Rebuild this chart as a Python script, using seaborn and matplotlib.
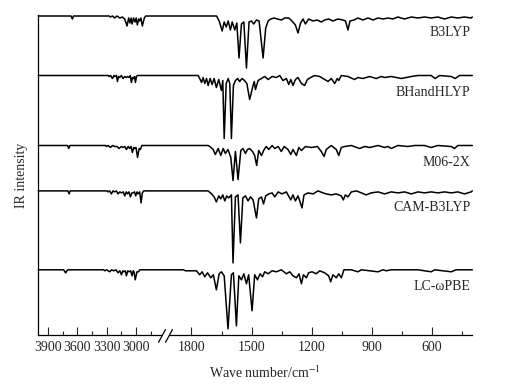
import numpy as np
import pandas as pd
import seaborn as sns
import matplotlib
matplotlib.use("Agg")
import matplotlib.pyplot as plt

# Spectra: [wave number (cm-1), band depth below baseline]
b3lyp = np.array([
    [4000, 0], [3665, 0], [3651, 3], [3640, 0], [3275, 0], [3262, 1], [3240, 0], [3218, 2],
    [3195, 0], [3166, 2], [3140, 1], [3115, 3], [3092, 10], [3075, 2], [3062, 7], [3050, 2],
    [3040, 8], [3025, 2], [3010, 6], [2998, 2], [2986, 9], [2972, 3], [2962, 5], [2950, 2],
    [2935, 10], [2915, 2], [2900, 0],
    [1675, 0], [1662, 5], [1647, 15], [1637, 6], [1627, 11], [1617, 5], [1606, 14], [1597, 6],
    [1584, 14], [1574, 7], [1563, 42], [1551, 8], [1539, 6], [1526, 52], [1513, 6], [1501, 5],
    [1490, 8], [1476, 4], [1463, 5], [1443, 42], [1430, 12], [1418, 5], [1405, 3], [1388, 2],
    [1372, 3], [1352, 4], [1335, 2], [1315, 2], [1299, 5], [1282, 9], [1269, 17], [1256, 7],
    [1244, 3], [1232, 8], [1216, 3], [1194, 5], [1174, 4], [1153, 6], [1136, 4], [1116, 3],
    [1095, 5], [1070, 3], [1045, 4], [1032, 5], [1020, 14], [1010, 5], [990, 4], [970, 2],
    [945, 4], [920, 2], [895, 4], [870, 2], [845, 3], [820, 2], [796, 3], [771, 1], [738, 3],
    [704, 1], [671, 2], [638, 1], [605, 2], [572, 1], [538, 3], [505, 1], [472, 2], [439, 1],
    [406, 2], [400, 1],
])

bhandhlyp = np.array([
    [4000, 0], [3285, 0], [3276, 1], [3260, 0], [3242, 3], [3225, 0], [3214, 1], [3200, 0],
    [3190, 6], [3178, 1], [3166, 2], [3150, 0], [3132, 3], [3115, 1], [3098, 2], [3085, 1],
    [3071, 2], [3058, 0], [3047, 7], [3035, 2], [3023, 3], [3015, 1], [3006, 7], [2995, 1],
    [2985, 0],
    [1767, 0], [1759, 3], [1750, 7], [1742, 2], [1734, 8], [1725, 3], [1717, 10], [1707, 3],
    [1697, 9], [1687, 3], [1676, 12], [1664, 4], [1651, 15], [1644, 5], [1637, 63], [1627, 8],
    [1617, 3], [1609, 8], [1601, 63], [1591, 10], [1581, 5], [1570, 3], [1560, 6], [1548, 3],
    [1536, 5], [1524, 8], [1510, 24], [1493, 10], [1487, 6], [1481, 14], [1468, 5], [1451, 3],
    [1435, 1], [1418, 4], [1398, 1], [1377, 2], [1360, 0], [1344, 5], [1327, 3], [1315, 9],
    [1305, 4], [1294, 10], [1282, 4], [1269, 2], [1252, 8], [1236, 10], [1222, 4], [1206, 2],
    [1186, 0], [1161, 1], [1136, 4], [1119, 6], [1103, 3], [1086, 8], [1073, 3], [1066, 5],
    [1053, 0], [1020, 1], [987, 4], [970, 2], [945, 3], [912, 1], [879, 3], [854, 1], [837, 2],
    [804, 1], [754, 3], [704, 1], [671, 0], [605, 0], [585, 3], [563, 0], [505, 1], [485, 3],
    [464, 0], [400, 0],
])

m062x = np.array([
    [4000, 0], [3700, 0], [3688, 3], [3676, 0], [3310, 0], [3303, 1], [3285, 0], [3262, 2],
    [3240, 0], [3218, 1], [3195, 1], [3173, 3], [3150, 1], [3132, 2], [3115, 1], [3098, 4],
    [3080, 1], [3064, 3], [3050, 1], [3037, 7], [3022, 2], [3013, 3], [3000, 2], [2984, 12],
    [2968, 3], [2955, 4], [2940, 0],
    [1717, 0], [1709, 1], [1692, 4], [1681, 9], [1667, 3], [1654, 10], [1642, 3], [1631, 8],
    [1618, 4], [1604, 12], [1593, 35], [1581, 6], [1568, 34], [1554, 5], [1543, 3], [1531, 8],
    [1521, 4], [1510, 3], [1496, 6], [1485, 10], [1475, 20], [1465, 5], [1451, 10], [1438, 4],
    [1427, 1], [1415, 4], [1398, 0], [1385, 3], [1368, 1], [1352, 6], [1338, 1], [1319, 4],
    [1305, 9], [1294, 4], [1277, 10], [1265, 2], [1252, 5], [1232, 1], [1202, 2], [1172, 1],
    [1153, 6], [1139, 11], [1128, 4], [1103, 0], [1078, 4], [1066, 10], [1053, 2], [1036, 1],
    [1003, 0], [962, 3], [937, 1], [912, 2], [870, 0], [837, 2], [821, 1], [804, 3], [771, 0],
    [721, 1], [688, 0], [638, 0], [605, 2], [572, 0], [505, 1], [489, 3], [472, 0], [400, 0],
])

camb3lyp = np.array([
    [4000, 0], [3697, 0], [3685, 3], [3673, 0], [3295, 0], [3286, 1], [3270, 0], [3252, 3],
    [3235, 0], [3218, 1], [3200, 0], [3184, 3], [3165, 1], [3149, 2], [3130, 1], [3115, 5],
    [3100, 1], [3088, 3], [3072, 1], [3057, 6], [3042, 2], [3030, 2], [3015, 1], [3003, 5],
    [2990, 1], [2980, 3], [2962, 1], [2948, 12], [2935, 2], [2920, 0],
    [1717, 0], [1700, 3], [1687, 6], [1676, 11], [1664, 5], [1654, 8], [1644, 4], [1634, 10],
    [1624, 5], [1614, 7], [1601, 4], [1593, 72], [1581, 6], [1568, 4], [1556, 52], [1544, 7],
    [1531, 5], [1518, 10], [1506, 6], [1493, 9], [1476, 27], [1465, 8], [1451, 6], [1441, 13],
    [1430, 5], [1415, 3], [1398, 2], [1385, 6], [1368, 1], [1349, 3], [1327, 1], [1305, 9],
    [1294, 4], [1282, 10], [1269, 5], [1257, 12], [1249, 17], [1239, 4], [1219, 2], [1194, 3],
    [1169, 0], [1144, 2], [1128, 3], [1103, 4], [1078, 3], [1053, 5], [1043, 9], [1033, 4],
    [1020, 6], [1003, 1], [978, 0], [953, 2], [929, 4], [904, 2], [870, 1], [837, 3], [804, 1],
    [771, 2], [738, 1], [704, 3], [671, 1], [638, 2], [605, 1], [572, 2], [538, 1], [505, 2],
    [472, 1], [439, 3], [406, 1], [400, 0],
])

lcwpbe = np.array([
    [4000, 0], [3740, 0], [3728, 2], [3719, 3], [3708, 1], [3695, 0], [3330, 0], [3320, 1],
    [3300, 0], [3269, 2], [3250, 0], [3228, 1], [3205, 0], [3184, 3], [3165, 1], [3149, 5],
    [3135, 1], [3126, 2], [3110, 1], [3098, 6], [3085, 1], [3071, 2], [3055, 1], [3040, 6],
    [3028, 1], [3020, 2], [3008, 10], [2990, 2], [2975, 2], [2960, 0],
    [1840, 0], [1830, 1], [1775, 1], [1759, 5], [1747, 2], [1734, 7], [1720, 3], [1704, 8],
    [1691, 5], [1676, 20], [1662, 4], [1651, 2], [1637, 6], [1618, 59], [1601, 5], [1591, 3],
    [1576, 56], [1564, 6], [1551, 10], [1539, 4], [1526, 14], [1515, 5], [1498, 41], [1485, 5],
    [1471, 10], [1458, 4], [1446, 7], [1435, 2], [1418, 4], [1398, 1], [1377, 2], [1352, 0],
    [1327, 4], [1310, 2], [1294, 6], [1277, 8], [1264, 4], [1252, 14], [1242, 5], [1227, 8],
    [1216, 3], [1199, 2], [1178, 4], [1161, 1], [1136, 3], [1116, 6], [1106, 12], [1095, 5],
    [1078, 8], [1066, 4], [1053, 8], [1040, 0], [1003, 0], [970, 2], [953, 0], [870, 2],
    [846, 0], [829, 1], [804, 0], [671, 0], [605, 2], [588, 0], [505, 2], [481, 0], [400, 0],
])

methods = ["B3LYP", "BHandHLYP", "M06-2X", "CAM-B3LYP", "LC-\u03c9PBE"]
spectra = [b3lyp, bhandhlyp, m062x, camb3lyp, lcwpbe]
offsets = [319.3, 259.8, 189.8, 144.4, 65.5]

major_ticks = [3900, 3600, 3300, 3000, 1800, 1500, 1200, 900, 600]
minor_ticks = [3750, 3450, 3150, 2850, 1650, 1350, 1050, 750, 450]

# broken x axis: 4000-2700 at half the scale of 1880-400, short squeezed gap between
A, G, B = 0.0978, 0.01239, 0.2008
U_HI = (4000 - 2700) * A
U_LO = U_HI + (2700 - 1880) * G


def fwd(w):
    w = np.asarray(w, dtype=float)
    u = np.where(w >= 2700, (4000 - w) * A,
                 np.where(w >= 1880, U_HI + (2700 - w) * G, U_LO + (1880 - w) * B))
    return -u


def inv(v):
    u = -np.asarray(v, dtype=float)
    return np.where(u <= U_HI, 4000 - u / A,
                    np.where(u <= U_LO, 2700 - (u - U_HI) / G, 1880 - (u - U_LO) / B))


sns.set_style("ticks")
plt.rcParams["font.family"] = ["Liberation Serif", "DejaVu Serif"]
plt.rcParams["mathtext.fontset"] = "stix"

fig = plt.figure(figsize=(5.06, 3.86), dpi=100)
ax = fig.add_axes([38.3 / 506, 50.7 / 386, 434 / 506, 319.8 / 386])

for name, spec, off in zip(methods, spectra, offsets):
    df = pd.DataFrame({"wn": spec[:, 0], "y": off - spec[:, 1]})
    sns.lineplot(data=df, x="wn", y="y", sort=False, estimator=None,
                 color="black", lw=1.1, ax=ax, clip_on=False)
    ax.text(410, off - 17, name, ha="right", va="center", fontsize=10)

ax.set_xscale("function", functions=(fwd, inv))
ax.set_xlim(4000, 400)
ax.set_ylim(0, 319.8)
ax.set_xticks(major_ticks, [str(t) for t in major_ticks])
ax.set_xticks(minor_ticks, minor=True)
ax.set_yticks([])
ax.tick_params(axis="x", which="major", direction="in", length=6, width=0.8, pad=4, labelsize=10)
ax.tick_params(axis="x", which="minor", direction="in", length=3, width=0.8)
for s in ["top", "right"]:
    ax.spines[s].set_visible(False)
for s in ["left", "bottom"]:
    ax.spines[s].set_linewidth(0.9)
    ax.spines[s].set_color("black")

ax.set_xlabel("Wave number/cm$^{-1}$", fontsize=10)
ax.xaxis.set_label_coords(0.521, -0.09)
ax.set_ylabel("IR intensity", fontsize=10)
ax.yaxis.set_label_coords(-0.024, 0.5)

# break marks on the x axis
bx = [(162 - 38.3) / 434, (169 - 38.3) / 434]
ax.add_patch(plt.Rectangle((bx[0] + 0.002, -0.01), bx[1] - bx[0] - 0.004, 0.02,
                           transform=ax.transAxes, color="white", clip_on=False, zorder=5))
for x0 in bx:
    ax.plot([x0 - 0.008, x0 + 0.008], [-0.022, 0.018], transform=ax.transAxes,
            color="black", lw=0.9, clip_on=False, zorder=6)

fig.savefig("out.png", dpi=100)
